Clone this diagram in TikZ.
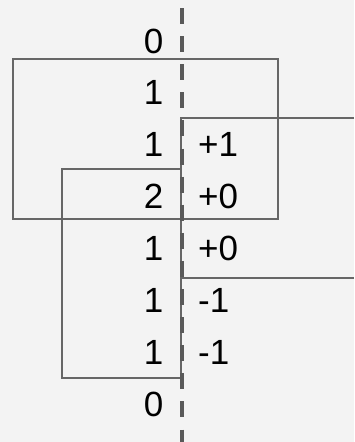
\documentclass[tikz,border=0pt]{standalone}
\usepackage{fontspec}
\setmainfont{Liberation Sans}
\usepackage{tikz}
\definecolor{backgray}{HTML}{F3F3F3}
\definecolor{linegray}{HTML}{666666}
\definecolor{dashgray}{HTML}{595959}

\begin{document}
\begin{tikzpicture}[
    x=1pt, y=-1pt,
    count/.style={anchor=base east, inner sep=0pt, font=\fontsize{35}{42}\selectfont},
    delta/.style={anchor=base west, inner sep=0pt, font=\fontsize{35}{42}\selectfont},
    bracket/.style={draw=linegray, line width=2pt},
    axis/.style={draw=dashgray, line width=4pt, dash pattern=on 16pt off 12.1pt}
]

% Background
\fill[backgray] (0,0) rectangle (354,442);
\useasboundingbox (0,0) rectangle (354,442);

% Counts
\node[count] (c1) at (163.5,53) {0};
\node[count] (c2) at (163.5,104.9) {1};
\node[count] (c3) at (163.5,156.7) {1};
\node[count] (c4) at (163.5,208.6) {2};
\node[count] (c5) at (163.5,260.4) {1};
\node[count] (c6) at (163.5,312.3) {1};
\node[count] (c7) at (163.5,364.1) {1};
\node[count] (c8) at (163.5,416) {0};

% Changes
\node[delta] (d3) at (198,156.7) {+1};
\node[delta] (d4) at (198,208.6) {+0};
\node[delta] (d5) at (198,260.4) {+0};
\node[delta] (d6) at (198,312.3) {-1};
\node[delta] (d7) at (198,364.1) {-1};

% Brackets
\draw[bracket] (12.5,59) rectangle (278,219);
\draw[bracket] (354,118) -- (181,118) -- (181,277.5) -- (354,277.5);
\draw[bracket] (62,169) rectangle (181,378);

% Axis
\coordinate (top) at (181.5,8);
\coordinate (bottom) at (181.5,442);
\draw[axis] (top) -- (bottom);

\end{tikzpicture}
\end{document}
